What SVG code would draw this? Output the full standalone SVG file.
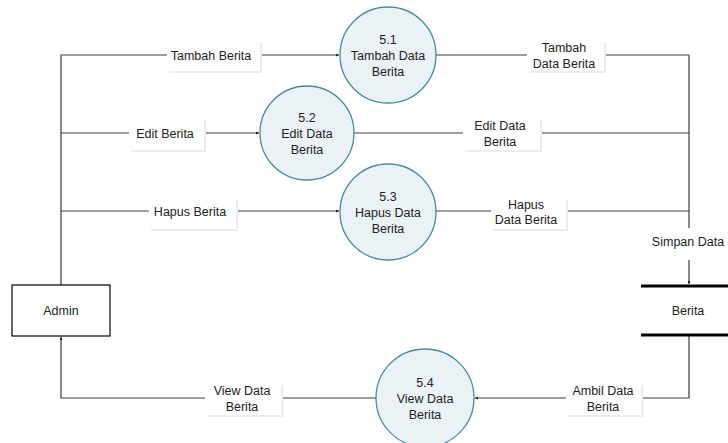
<svg xmlns="http://www.w3.org/2000/svg" width="728" height="443" viewBox="0 0 728 443">
<style>
text{font-family:"Liberation Sans",Arial,sans-serif;font-size:12.5px;fill:#222;text-anchor:middle}
.ln{fill:none;stroke:#3a3a3a;stroke-width:1.2}
.proc{fill:#eaf2f6;stroke:#4a8a9e;stroke-width:1.3}
.lb{fill:#fff}
.sh{fill:#ececec}
.store{stroke:#000;stroke-width:3}
</style>
<defs>
<marker id="ah" viewBox="0 0 6 6" refX="6" refY="3" markerWidth="3" markerHeight="3" orient="auto" markerUnits="userSpaceOnUse">
<path d="M0,0 L6,3 L0,6 z" fill="#222"/>
</marker>
</defs>
<g id="connectors">
<path class="ln" d="M61,285 V55 H339" marker-end="url(#ah)"/>
<path class="ln" d="M61,133 H259" marker-end="url(#ah)"/>
<path class="ln" d="M61,211 H339" marker-end="url(#ah)"/>
<path class="ln" d="M436,55 H689"/>
<path class="ln" d="M354,133 H689"/>
<path class="ln" d="M436,211 H689"/>
<path class="ln" d="M689,55 V284" marker-end="url(#ah)"/>
<path class="ln" d="M689,336 V398 H475" marker-end="url(#ah)"/>
<path class="ln" d="M376,398 H61 V337" marker-end="url(#ah)"/>
</g>
<g id="label-tambah-berita"><rect class="sh" x="169" y="42" width="93" height="31"/><rect class="lb" x="167" y="40" width="93" height="31"/><text x="211" y="60">Tambah Berita</text></g>
<g id="label-edit-berita"><rect class="sh" x="131" y="120" width="75" height="32"/><rect class="lb" x="129" y="118" width="75" height="32"/><text x="165" y="138">Edit Berita</text></g>
<g id="label-hapus-berita"><rect class="sh" x="151" y="200" width="87" height="31"/><rect class="lb" x="149" y="198" width="87" height="31"/><text x="190" y="216">Hapus Berita</text></g>
<g id="label-tambah-data-berita"><rect class="sh" x="529" y="42" width="77" height="31"/><rect class="lb" x="527" y="40" width="77" height="31"/><text x="564" y="52">Tambah</text><text x="564" y="68">Data Berita</text></g>
<g id="label-edit-data-berita"><rect class="sh" x="465" y="120" width="77" height="32"/><rect class="lb" x="463" y="118" width="77" height="32"/><text x="500" y="130">Edit Data</text><text x="500" y="146">Berita</text></g>
<g id="label-hapus-data-berita"><rect class="sh" x="493" y="200" width="75" height="31"/><rect class="lb" x="491" y="198" width="75" height="31"/><text x="526" y="209">Hapus</text><text x="526" y="224">Data Berita</text></g>
<g id="label-simpan-data"><rect class="lb" x="641" y="228" width="87" height="32"/><text x="688" y="246">Simpan Data</text></g>
<g id="label-view-data-berita"><rect class="sh" x="207" y="385" width="76" height="32"/><rect class="lb" x="205" y="383" width="76" height="32"/><text x="242" y="395">View Data</text><text x="242" y="411">Berita</text></g>
<g id="label-ambil-data-berita"><rect class="sh" x="568" y="385" width="75" height="32"/><rect class="lb" x="566" y="383" width="75" height="32"/><text x="603" y="395">Ambil Data</text><text x="603" y="411">Berita</text></g>
<g id="p51"><circle class="proc" cx="388" cy="55" r="48"/><text x="388" y="44">5.1</text><text x="388" y="60">Tambah Data</text><text x="388" y="76">Berita</text></g>
<g id="p52"><circle class="proc" cx="307" cy="133" r="47"/><text x="307" y="122">5.2</text><text x="307" y="138">Edit Data</text><text x="307" y="154">Berita</text></g>
<g id="p53"><circle class="proc" cx="388" cy="212" r="48"/><text x="388" y="201">5.3</text><text x="388" y="217">Hapus Data</text><text x="388" y="233">Berita</text></g>
<g id="p54"><circle class="proc" cx="425" cy="398" r="49"/><text x="425" y="387">5.4</text><text x="425" y="403">View Data</text><text x="425" y="419">Berita</text></g>
<g id="admin"><rect x="12" y="285" width="98" height="51" fill="#fff" stroke="#000" stroke-width="1.2"/><text x="61" y="315">Admin</text></g>
<g id="berita"><line class="store" x1="641" y1="286" x2="728" y2="286"/><line class="store" x1="641" y1="335" x2="728" y2="335"/><text x="688" y="315">Berita</text></g>
</svg>
